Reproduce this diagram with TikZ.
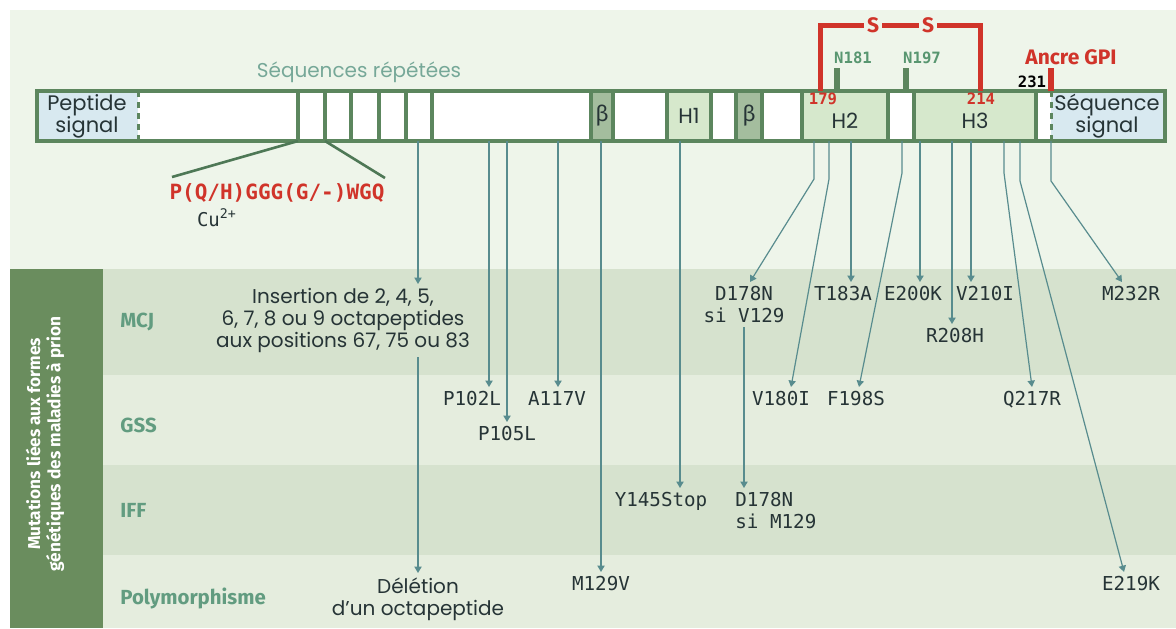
\documentclass[tikz,border=0pt]{standalone}
\usepackage{fontspec}
\setmainfont{Poppins}
\newfontfamily\labfont{Fira Sans}
\newfontfamily\codefont{DejaVu Sans Mono}
\usetikzlibrary{arrows.meta,calc}

\definecolor{bgpale}{RGB}{238,245,234}
\definecolor{bandA}{RGB}{214,226,206}
\definecolor{bandB}{RGB}{229,237,222}
\definecolor{sidec}{RGB}{106,141,94}
\definecolor{barc}{RGB}{92,134,94}
\definecolor{helixc}{RGB}{214,232,204}
\definecolor{betac}{RGB}{164,189,158}
\definecolor{sigc}{RGB}{216,233,240}
\definecolor{linkc}{RGB}{88,140,142}
\definecolor{ink}{RGB}{38,52,54}
\definecolor{prred}{RGB}{208,52,42}
\definecolor{rowc}{RGB}{98,156,128}
\definecolor{titlec}{RGB}{118,168,152}
\definecolor{glyc}{RGB}{88,150,112}
\definecolor{motifc}{RGB}{78,120,86}

\begin{document}
\begin{tikzpicture}[x=0.5pt, y=-0.5pt,
    link/.style={draw=linkc, line width=0.6pt, -{Triangle[length=3.2pt,width=3.6pt]}},
    mut/.style={font=\codefont\fontsize{9.6}{11}\selectfont, text=ink, inner sep=2pt, anchor=north, align=center},
    prose/.style={font=\fontsize{10}{11}\selectfont, text=ink, inner sep=2pt, anchor=north, align=center},
    row/.style={font=\labfont\bfseries\fontsize{10.2}{12}\selectfont, text=rowc, anchor=west, inner sep=0pt},
    bartxt/.style={font=\fontsize{10.5}{11}\selectfont, text=ink, inner sep=0pt, align=center},
    greek/.style={font=\labfont\fontsize{11}{11}\selectfont, text=ink, inner sep=0pt},
    tag/.style={font=\codefont\bfseries\fontsize{7.8}{8}\selectfont, inner sep=0pt},
    seg/.style={draw=barc, line width=1.8pt},
    bond/.style={draw=prred, line width=2.5pt}]

    \useasboundingbox (0,0) rectangle (1176,628);
    \fill[bgpale] (10,10) rectangle (1176,628);

    % rows of the table
    \fill[bandA] (103,269) rectangle (1176,375);
    \fill[bandB] (103,375) rectangle (1176,465);
    \fill[bandA] (103,465) rectangle (1176,555);
    \fill[bandB] (103,555) rectangle (1176,628);
    \fill[sidec] (10,269) rectangle (103,628);
    \node (side) [rotate=90, text=white, align=center, font=\labfont\bfseries\fontsize{8.6}{10.2}\selectfont] at (45,444) {Mutations liées aux formes\\génétiques des maladies à prion};
    \node (mcj) [row] at (120,322) {MCJ};
    \node (gss) [row] at (120,425) {GSS};
    \node (iff) [row] at (120,510) {IFF};
    \node (poly) [row] at (120,598) {Polymorphisme};

    % protein
    \fill[sigc] (37,91) rectangle (138,141);
    \fill[white] (138,91) rectangle (1051,141);
    \fill[betac] (591,91) rectangle (613,141);
    \fill[helixc] (667,91) rectangle (711,141);
    \fill[betac] (736,91) rectangle (762,141);
    \fill[helixc] (802,91) rectangle (888,141);
    \fill[helixc] (914,91) rectangle (1036,141);
    \fill[sigc] (1051,91) rectangle (1165,141);
    \foreach \x in {298,325,351,379,406,432,591,613,667,711,736,762,802,888,914,1036}
        \draw[seg] (\x,91) -- (\x,141);
    \draw[seg, line width=1.5pt, dash pattern=on 3pt off 2.5pt] (138,91) -- (138,141);
    \draw[seg, line width=1.5pt, dash pattern=on 3pt off 2.5pt] (1051,91) -- (1051,141);
    \draw[seg, line width=2pt] (37,91) rectangle (1165,141);

    \node (pep) [bartxt] at (87,116) {Peptide\\signal};
    \node (b1) [greek] at (602,116) {β};
    \node (h1) [bartxt] at (689,116) {H1};
    \node (b2) [greek] at (749,116) {β};
    \node (h2) [bartxt] at (845,121) {H2};
    \node (h3) [bartxt] at (975,121) {H3};
    \node (sig) [bartxt] at (1107,116) {Séquence\\signal};
    \node (rep) [font=\fontsize{10}{12}\selectfont, text=titlec] at (359,72) {Séquences répétées};

    % disulfide bridge, glycosylations, GPI anchor
    \coordinate (c179) at (820,91);
    \coordinate (c214) at (980,91);
    \node (s1) [font=\labfont\bfseries\fontsize{10.5}{11}\selectfont, text=prred, inner sep=1.5pt] at (873,25) {S};
    \node (s2) [font=\labfont\bfseries\fontsize{10.5}{11}\selectfont, text=prred, inner sep=1.5pt] at (928,25) {S};
    \draw[bond] (c179) |- (s1.west);
    \draw[bond] (s1) -- (s2);
    \draw[bond] (s2.east) -| (c214);
    \node (n179) [tag, text=prred] at (823,99) {179};
    \node (n214) [tag, text=prred] at (981,99) {214};

    \coordinate (g181) at (837,91);
    \coordinate (g197) at (906,91);
    \coordinate (g231) at (1051,91);
    \draw[barc, line width=3pt] (g181) -- ++(0,-23);
    \draw[barc, line width=3pt] (g197) -- ++(0,-23);
    \draw[prred, line width=3pt] (g231) -- ++(0,-23);
    \node (n181) [tag, text=glyc] at (853,58) {N181};
    \node (n197) [tag, text=glyc] at (922,58) {N197};
    \node (n231) [tag, text=black] at (1032,82) {231};
    \node (gpi) [font=\labfont\bfseries\fontsize{10.5}{11}\selectfont, text=prred, inner sep=0pt] at (1071,57) {Ancre GPI};

    % octapeptide repeats
    \node (motif) [font=\codefont\bfseries\fontsize{10.5}{12}\selectfont, text=prred, inner sep=1pt] at (277,193) {P(Q/H)GGG(G/-)WGQ};
    \node (cu) [font=\codefont\fontsize{9.5}{11}\selectfont, text=ink, inner sep=1pt] at (217,218) {Cu\textsuperscript{2+}};
    \coordinate (r1) at (298,141);
    \coordinate (r2) at (325,141);
    \coordinate (ml) at (172,177);
    \coordinate (mr) at (385,178);
    \draw[motifc, line width=1.3pt] (r1) -- (ml);
    \draw[motifc, line width=1.3pt] (r2) -- (mr);

    % mutations
    \coordinate (pins) at (418,141);
    \coordinate (p102) at (489,141);
    \coordinate (p105) at (507,141);
    \coordinate (p117) at (558,141);
    \coordinate (p129) at (601,141);
    \coordinate (p145) at (680,141);
    \coordinate (p178) at (814,141);
    \coordinate (p180) at (829,141);
    \coordinate (p183) at (851,141);
    \coordinate (p198) at (902,141);
    \coordinate (p200) at (920,141);
    \coordinate (p208) at (952,141);
    \coordinate (p210) at (971,141);
    \coordinate (p217) at (1004,141);
    \coordinate (p219) at (1020,141);
    \coordinate (p232) at (1051,141);

    \node (ins) [prose] at (343,284) {Insertion de 2, 4, 5,\\6, 7, 8 ou 9 octapeptides\\aux positions 67, 75 ou 83};
    \node (del) [prose] at (418,573) {Délétion\\d'un octapeptide};
    \node (m102) [mut] at (472,387) {P102L};
    \node (m105) [mut] at (507,422) {P105L};
    \node (m117) [mut] at (557,387) {A117V};
    \node (m129) [mut] at (601,572) {M129V};
    \node (m145) [mut] at (661,488) {Y145Stop};
    \node (m178a) [mut] at (744,282) {D178N\\si V129};
    \node (m178b) [mut, anchor=north west, align=left] at (731,488) {D178N\\si M129};
    \node (m180) [mut] at (781,387) {V180I};
    \node (m183) [mut] at (843,282) {T183A};
    \node (m198) [mut] at (856,387) {F198S};
    \node (m200) [mut] at (913,282) {E200K};
    \node (m208) [mut] at (955,324) {R208H};
    \node (m210) [mut] at (985,282) {V210I};
    \node (m217) [mut] at (1032,387) {Q217R};
    \node (m219) [mut] at (1131,572) {E219K};
    \node (m232) [mut] at (1131,282) {M232R};

    \draw[link] (pins) -- (pins |- ins.north);
    \draw[link] (pins |- ins.south) -- (del.north);
    \draw[link] (p102) -- (p102 |- m102.north);
    \draw[link] (p105) -- (m105.north);
    \draw[link] (p117) -- (p117 |- m117.north);
    \draw[link] (p129) -- (m129.north);
    \draw[link] (p145) -- (p145 |- m145.north);
    \draw[link] (p178) -- ++(0,38) -- ([xshift=3pt]m178a.north);
    \draw[link] (m178a.south) -- (m178a.south |- m178b.north);
    \draw[link] (p180) -- ++(0,38) -- ([xshift=5pt]m180.north);
    \draw[link] (p183) -- (p183 |- m183.north);
    \draw[link] (p198) -- ++(0,32) -- ([xshift=1.5pt]m198.north);
    \draw[link] (p200) -- (p200 |- m200.north);
    \draw[link] (p208) -- (p208 |- m208.north);
    \draw[link] (p210) -- (p210 |- m210.north);
    \draw[link] (p217) -- ++(0,32) -- (m217.north);
    \draw[link] (p219) -- ++(0,40) -- ([xshift=-3.5pt]m219.north);
    \draw[link] (p232) -- ++(0,40) -- ([xshift=-4.5pt]m232.north);
\end{tikzpicture}
\end{document}
